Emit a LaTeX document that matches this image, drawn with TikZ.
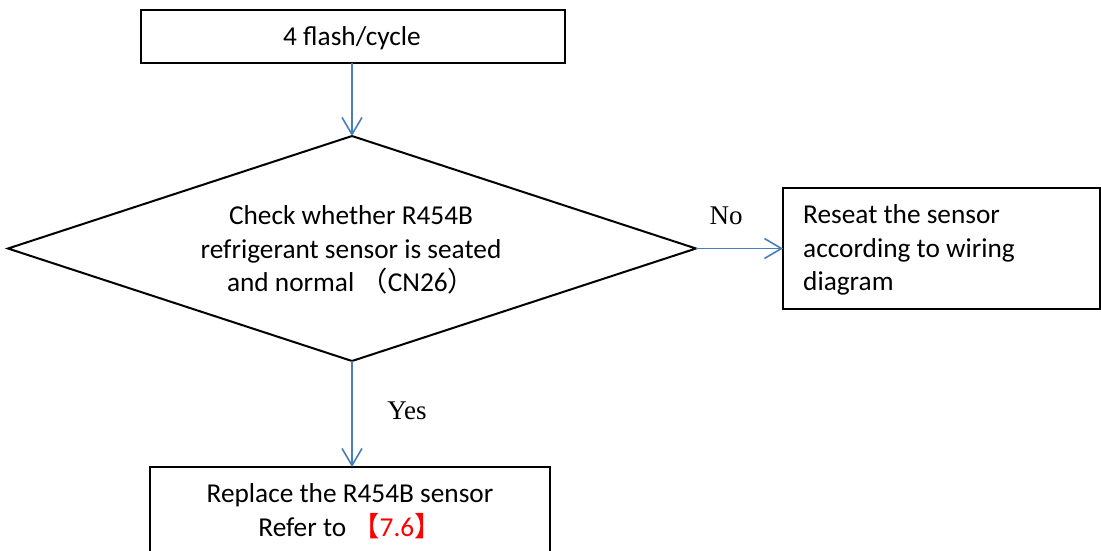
\documentclass[tikz,border=0pt]{standalone}
\usepackage{fontspec}
\setmainfont{Carlito}
\newfontfamily\serifrm{Liberation Serif}
\newfontfamily\cjk{Noto Sans CJK SC}
\usetikzlibrary{shapes.geometric,arrows.meta}
\definecolor{flowblue}{HTML}{4A7EBB}
\definecolor{refred}{HTML}{FF0000}
\tikzset{
  x=1pt, y=-1pt,
  box/.style={draw=black, line width=2pt, inner sep=0pt, outer sep=0pt},
  decision/.style={diamond, draw=black, line width=2pt, inner sep=0pt, outer sep=0pt, aspect=3},
  flow/.style={draw=flowblue, line width=1.6pt, -{Straight Barb[length=17pt,width=20pt,line width=1.6pt]}},
  txt/.style={font=\fontsize{27.3}{33.5}\selectfont, inner sep=0pt, align=center},
  lbl/.style={font=\serifrm\fontsize{27}{33.5}\selectfont, inner sep=0pt}
}
\begin{document}
\begin{tikzpicture}
\useasboundingbox (0,0) rectangle (1101,550);
\fill[white] (0,0) rectangle (1101,550);
% boxes
\node[box, minimum width=424pt, minimum height=53pt] (t) at (353,36.5) {};
\node[txt] (tt) at (352,38) {4 flash/cycle};
\node[decision, minimum width=688pt, minimum height=225pt] (d) at (352,248.5) {};
\node[txt] (dt) at (351,250) {Check whether R454B\\refrigerant sensor is seated\\and normal {\cjk （}CN26{\cjk ）}};
\node[box, minimum width=317pt, minimum height=121pt] (r) at (941.5,248.5) {};
\node[txt, anchor=west, align=left] (rt) at (803,250) {Reseat the sensor\\according to wiring\\diagram};
\node[box, minimum width=400pt, minimum height=93pt] (b) at (350,513.5) {};
\node[txt] (bt) at (350,511) {Replace the R454B sensor\\Refer to {\cjk\color{refred}【}{\color{refred}7.6}{\cjk\color{refred}】}};
% connectors
\draw[flow] (d.north |- t.south) -- (d.north);
\draw[flow] (d.east) -- (r.west);
\draw[flow] (d.south) -- (d.south |- b.north);
% labels
\node[lbl] (no) at (726,216) {No};
\node[lbl] (yes) at (407,411) {Yes};
\end{tikzpicture}
\end{document}
